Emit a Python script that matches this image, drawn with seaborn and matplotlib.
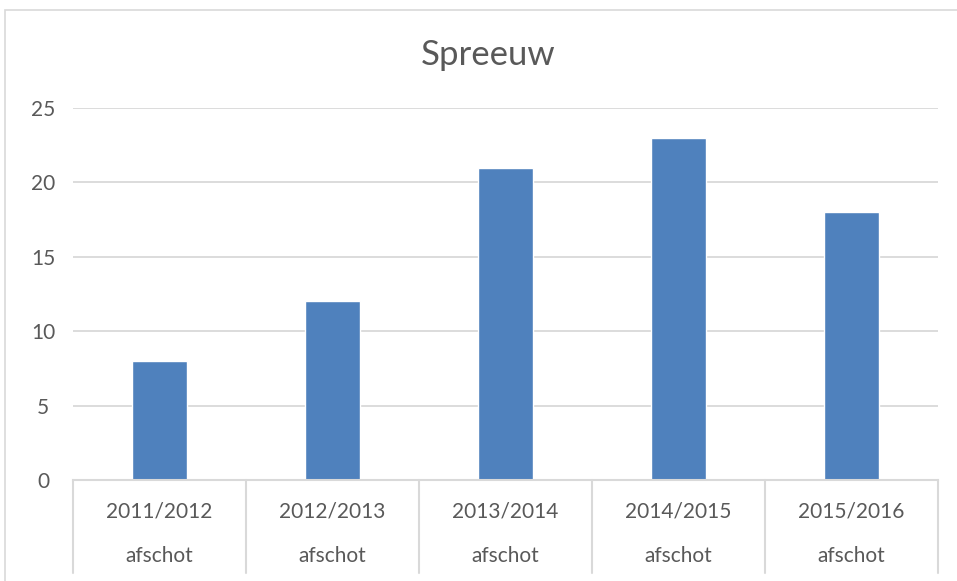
import pandas as pd
import matplotlib.pyplot as plt
import matplotlib.transforms as mtransforms
from matplotlib.patches import Rectangle
import seaborn as sns

# Chart data
seasons = ['2011/2012', '2012/2013', '2013/2014', '2014/2015', '2015/2016']
groups = ['afschot', 'afschot', 'afschot', 'afschot', 'afschot']
values = [8, 12, 21, 23, 18]
y_ticks = [0, 5, 10, 15, 20, 25]

df = pd.DataFrame({'season': seasons, 'group': groups, 'value': values})

sns.set_theme(style='white')
plt.rcParams['font.family'] = ['Lato', 'DejaVu Sans']

grid_col = '#D9D9D9'
text_col = '#595959'
bar_col = '#4F81BD'

fig = plt.figure(figsize=(9.57, 5.81), dpi=100)
W, H = 957, 581

# outer chart border (cropped on the right and bottom)
fig.patches.append(Rectangle((5 / W, -0.05), 1.2, 1 - 10 / H + 0.05,
                             transform=fig.transFigure, fill=False,
                             edgecolor=grid_col, linewidth=1.2))

ax = fig.add_axes([73 / W, 1 - 480 / H, (938 - 73) / W, (480 - 108) / H])

sns.barplot(data=df, x='season', y='value', color=bar_col, width=0.32,
            saturation=1, ax=ax, zorder=3)

ax.set_ylim(0, 25)
ax.set_xlim(-0.5, len(seasons) - 0.5)
ax.set_yticks(y_ticks)
ax.set_yticklabels([str(t) for t in y_ticks], fontsize=15, color=text_col,
                   ha='center')
ax.tick_params(axis='y', length=0, pad=21.5)
ax.set_xticks([])
ax.set_xlabel('')
ax.set_ylabel('')

for t in y_ticks[1:]:
    ax.axhline(t, color=grid_col, linewidth=1.3, zorder=1)

for s in ['top', 'right', 'left']:
    ax.spines[s].set_visible(False)
ax.spines['bottom'].set_color(grid_col)
ax.spines['bottom'].set_linewidth(1.5)
ax.spines['bottom'].set_zorder(4)

# multi-level category axis
trans = mtransforms.blended_transform_factory(ax.transData, ax.transAxes)
for i in range(len(seasons) + 1):
    ax.plot([i - 0.5, i - 0.5], [0, -0.25], transform=trans, color=grid_col,
            linewidth=1.5, clip_on=False)
for i, (s, g) in enumerate(zip(seasons, groups)):
    ax.text(i, -0.086, s, transform=trans, ha='center', va='center',
            fontsize=15, color=text_col)
    ax.text(i, -0.204, g, transform=trans, ha='center', va='center',
            fontsize=15, color=text_col)

fig.text(488 / W, 1 - 55 / H, 'Spreeuw', ha='center', va='center',
         fontsize=25, color=text_col)

fig.savefig('out.png', dpi=100)
